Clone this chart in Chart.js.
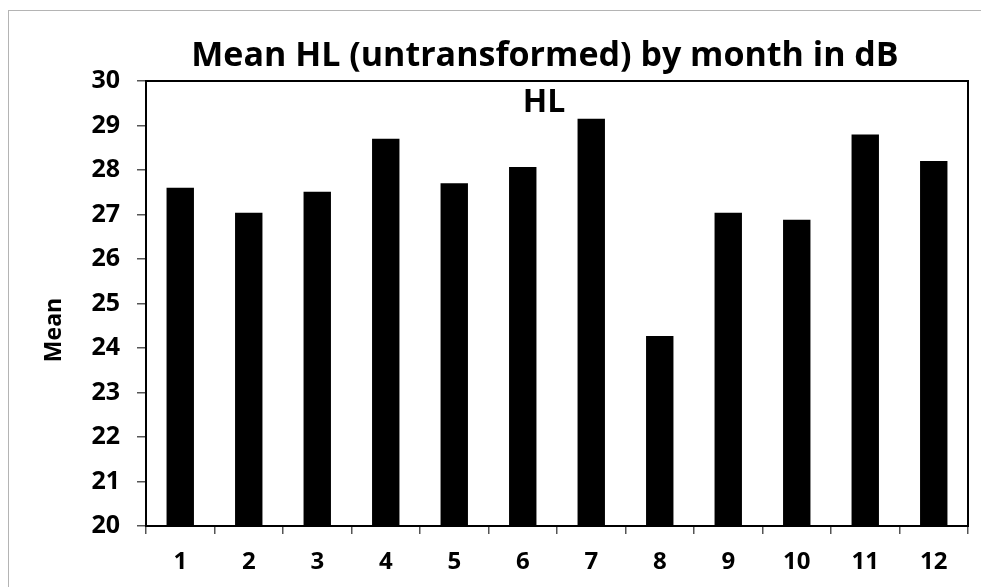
<!DOCTYPE html>
<html>
<head>
<meta charset="utf-8">
<script src="https://cdn.jsdelivr.net/npm/chart.js@4"></script>
<style>
  html, body { margin: 0; padding: 0; background: #fff; overflow: hidden; }
  #wrap { position: relative; width: 981px; height: 587px; overflow: hidden; }
  #frame { position: absolute; left: 8px; top: 10px; right: 0; bottom: 0; border-left: 1px solid #b4b4b4; border-top: 1px solid #b4b4b4; }
  canvas { position: absolute; left: 0; top: 0; }
</style>
</head>
<body>
<div id="wrap">
  <div id="frame"></div>
  <canvas id="myChart" width="981" height="587"></canvas>
</div>
<script>
  // chart data
  const months = ["1", "2", "3", "4", "5", "6", "7", "8", "9", "10", "11", "12"];
  const meanHL = [27.6, 27.04, 27.51, 28.7, 27.7, 28.07, 29.15, 24.27, 27.04, 26.88, 28.8, 28.2];
  const yMin = 20;
  const yMax = 30;

  const chartTitle = "Mean HL (untransformed) by month in dB";
  const seriesName = "HL";
  const yTitle = "Mean";

  const FONT = "'Open Sans', sans-serif";

  // draws the title texts and the box round the plot
  const decorations = {
    id: "decorations",
    afterDatasetsDraw(chart) {
      const { ctx, chartArea } = chart;
      ctx.save();
      ctx.strokeStyle = "#000";
      ctx.lineWidth = 2;
      ctx.strokeRect(chartArea.left, chartArea.top, chartArea.right - chartArea.left, chartArea.bottom - chartArea.top);

      ctx.fillStyle = "#000";
      ctx.textAlign = "center";
      ctx.textBaseline = "middle";
      ctx.font = "bold 34px " + FONT;
      ctx.fillText(chartTitle, 545, 56);

      ctx.font = "bold 32px " + FONT;
      ctx.fillText(seriesName, 544, 103);

      ctx.translate(54, 330);
      ctx.rotate(-Math.PI / 2);
      ctx.font = "bold 23px " + FONT;
      ctx.fillText(yTitle, 0, 0);
      ctx.restore();
    },
  };

  const ctx = document.getElementById("myChart").getContext("2d");
  new Chart(ctx, {
    type: "bar",
    data: {
      labels: months,
      datasets: [
        {
          label: seriesName,
          data: meanHL,
          backgroundColor: "#000",
          borderWidth: 0,
          barPercentage: 0.4,
          categoryPercentage: 1.0,
        },
      ],
    },
    options: {
      responsive: false,
      animation: false,
      layout: { padding: { left: 0, top: 81, right: 13, bottom: 0 } },
      plugins: {
        legend: { display: false },
        title: { display: false },
        tooltip: { enabled: false },
      },
      scales: {
        x: {
          afterFit: (scale) => { scale.height = 61; },
          border: { display: true, color: "#000", width: 2 },
          grid: { offset: true, drawOnChartArea: false, drawTicks: true, tickLength: 8, color: "#555", lineWidth: 1.5 },
          ticks: { color: "#000", padding: 14, font: { family: FONT, size: 24, weight: "bold" } },
        },
        y: {
          min: yMin,
          max: yMax,
          afterFit: (scale) => { scale.width = 146; },
          border: { display: true, color: "#000", width: 2 },
          grid: { drawOnChartArea: false, drawTicks: true, tickLength: 9, color: "#555", lineWidth: 1.5 },
          ticks: { stepSize: 1, color: "#000", padding: 17, font: { family: FONT, size: 25, weight: "bold" } },
        },
      },
    },
    plugins: [decorations],
  });
</script>
</body>
</html>
